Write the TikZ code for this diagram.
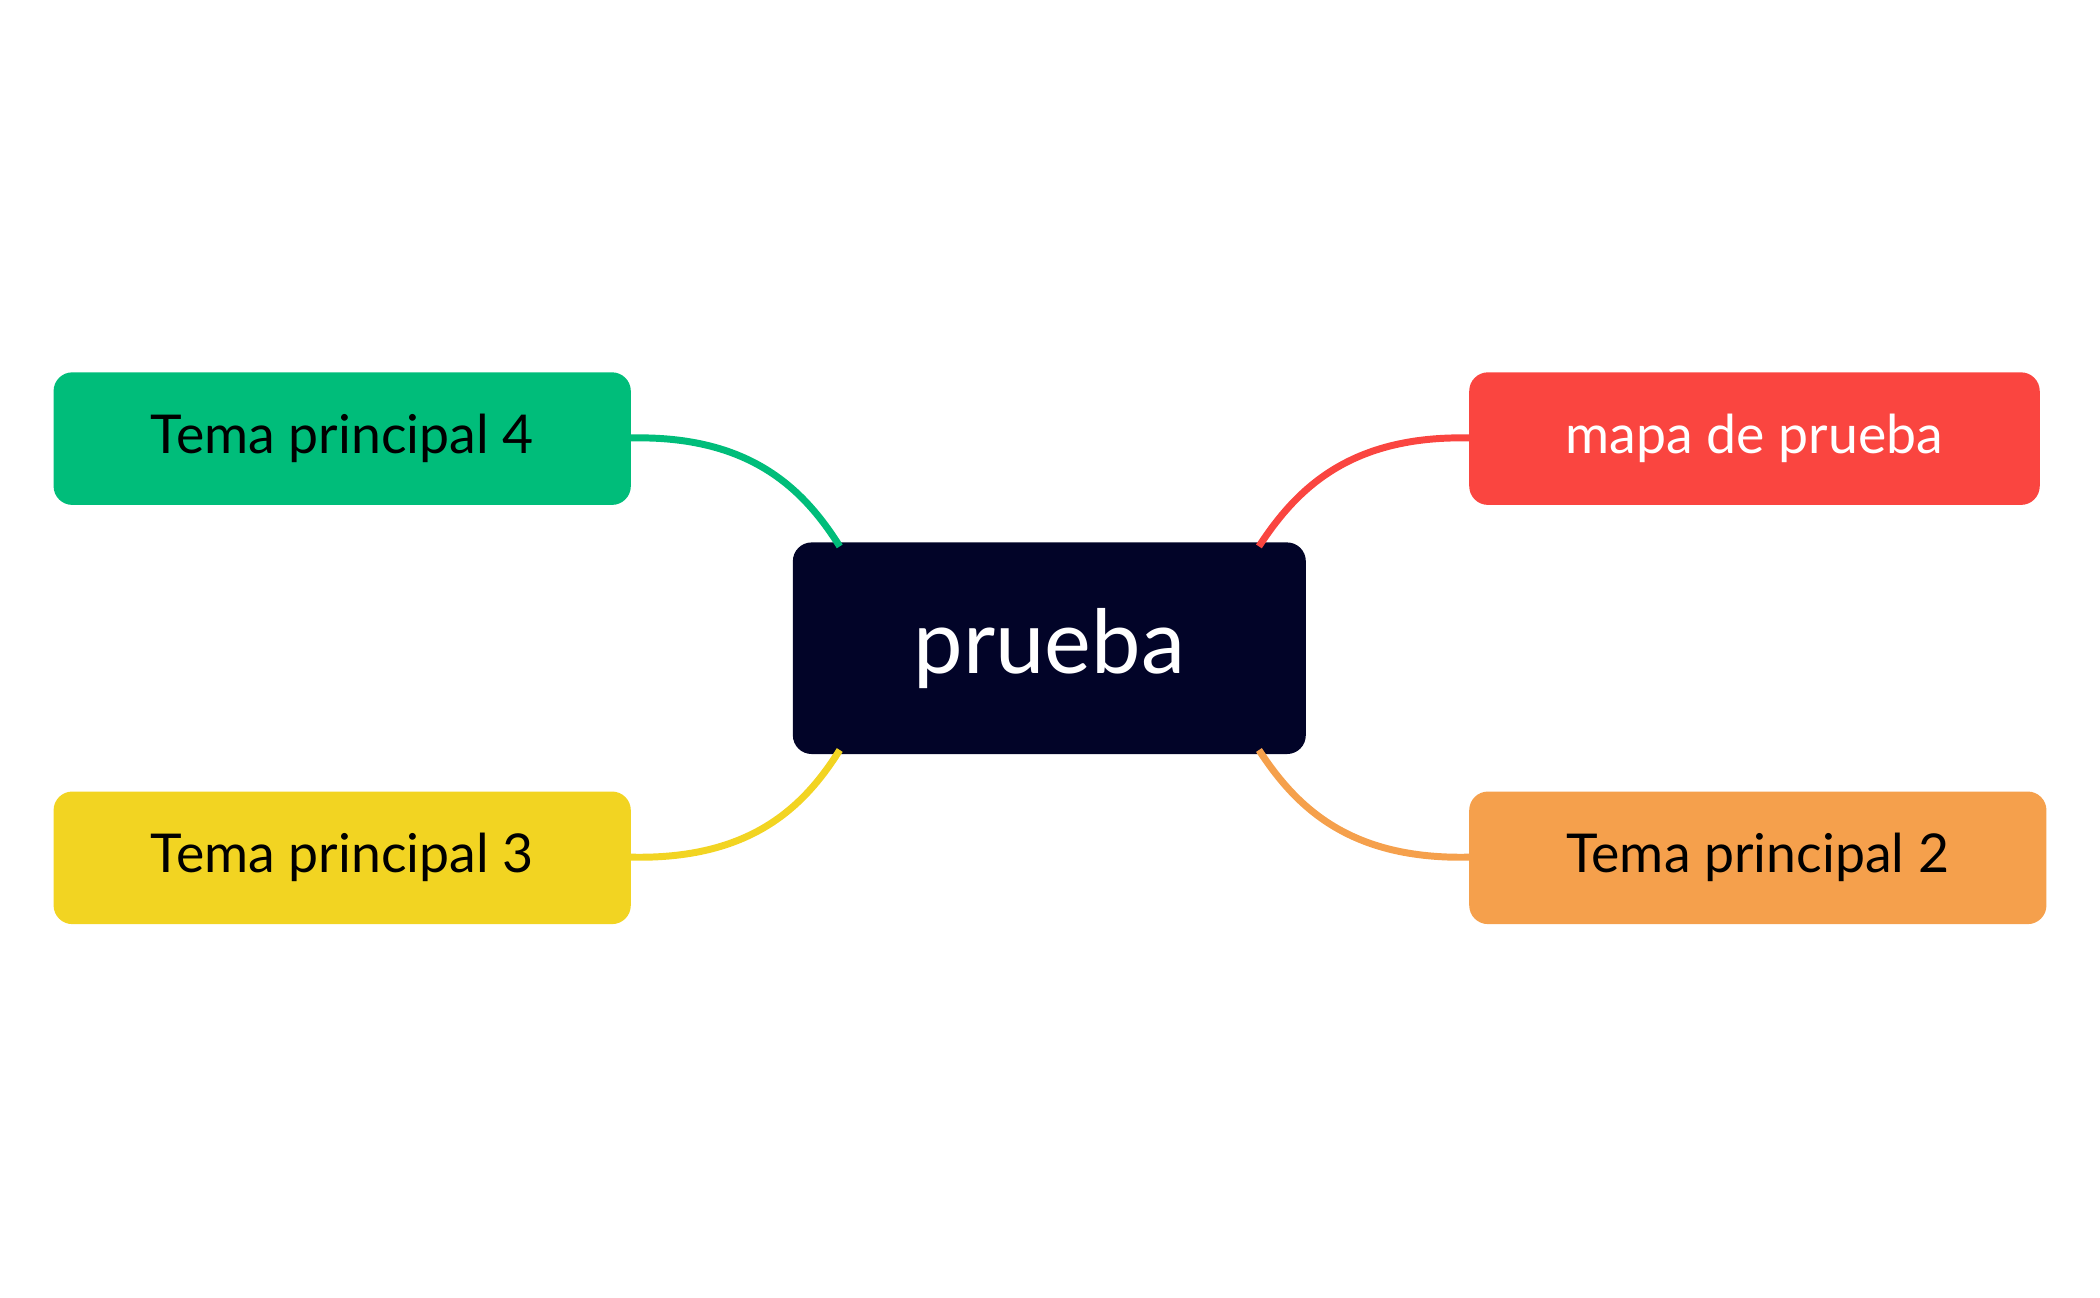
\documentclass[tikz,border=0pt]{standalone}
\usepackage{fontspec}
\setmainfont{Lato}
\definecolor{cgreen}{HTML}{00BD7A}
\definecolor{cyellow}{HTML}{F2D422}
\definecolor{cred}{HTML}{FA4540}
\definecolor{corange}{HTML}{F5A04C}
\definecolor{cdark}{HTML}{020428}
\begin{document}
\begin{tikzpicture}[x=0.5pt,y=-0.5pt,
  topic/.style={rounded corners=7pt,inner sep=0pt,font=\fontsize{20}{24}\selectfont},
  link/.style={line width=2.6pt}]
\useasboundingbox (0,0) rectangle (1568,969);
\fill[cdark,rounded corners=7pt] (592,405) rectangle (975,563);
\node[text=white,font=\fontsize{33}{40}\selectfont] (c) at (783.5,484) {prueba};
\coordinate (cnw) at (627,408);
\coordinate (cne) at (940,408);
\coordinate (csw) at (627,560);
\coordinate (cse) at (940,560);
\fill[cgreen,rounded corners=7pt] (40,278) rectangle (471,377);
\node[topic] (g) at (255.5,327.5) {Tema principal 4};
\coordinate (ge) at (471,327);
\fill[cyellow,rounded corners=7pt] (40,591) rectangle (471,690);
\node[topic] (y) at (255.5,640.5) {Tema principal 3};
\coordinate (ye) at (471,640);
\fill[cred,rounded corners=7pt] (1097,278) rectangle (1523,377);
\node[topic,text=white] (r) at (1310,327.5) {mapa de prueba};
\coordinate (rw) at (1097,327);
\fill[corange,rounded corners=7pt] (1097,591) rectangle (1528,690);
\node[topic] (o) at (1312.5,640.5) {Tema principal 2};
\coordinate (ow) at (1097,640);
\draw[link,cgreen] (ge) .. controls (560,325) and (600,365) .. (cnw);
\draw[link,cred] (rw) .. controls (1008,325) and (968,365) .. (cne);
\draw[link,cyellow] (ye) .. controls (560,642) and (600,603) .. (csw);
\draw[link,corange] (ow) .. controls (1008,642) and (968,603) .. (cse);
\end{tikzpicture}
\end{document}
